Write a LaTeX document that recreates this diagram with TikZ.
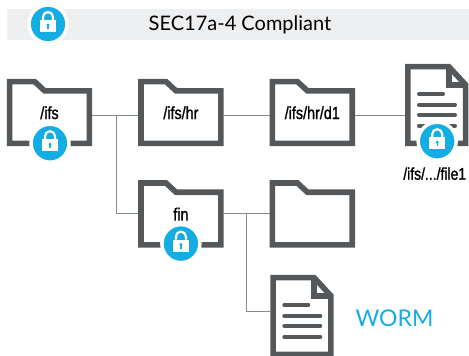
\documentclass[tikz,border=0pt]{standalone}
\usepackage{fontspec}
\setmainfont{Lato}
\newfontfamily\labelfont[FakeStretch=0.82,FakeBold=1.2]{Liberation Sans}
\usetikzlibrary{positioning,calc}
\definecolor{lockblue}{HTML}{14ADE3}
\definecolor{iconGray}{HTML}{54585A}
\definecolor{bandGray}{HTML}{EEEFF1}
\tikzset{
 folder/.style={minimum width=85pt, minimum height=67pt, inner sep=0pt, text height=13pt, text depth=0pt, font=\labelfont\fontsize{17.5}{17.5}\selectfont},
 docu/.style={minimum width=63pt, minimum height=82pt, inner sep=0pt},
 outline/.style={draw=iconGray, line width=5.6pt, miter limit=10},
 textline/.style={draw=iconGray, line width=4pt, line cap=round},
 link/.style={draw=iconGray!70, line width=1pt},
 lock/.style={circle, minimum size=38pt, inner sep=0pt, draw=white, line width=3.5pt, fill=lockblue,
  path picture={
   \fill[white] ([shift={(-8,-8)}]path picture bounding box.center) rectangle ++(16,12);
   \draw[white,line width=2.2pt] ([shift={(-5,4)}]path picture bounding box.center) -- ++(0,3) arc (180:0:5) -- ++(0,-3);
   \fill[lockblue] ([yshift=-1pt]path picture bounding box.center) circle (1.7pt);
   \draw[lockblue,line width=1.2pt] ([yshift=-1pt]path picture bounding box.center) -- ++(0,-4);
  }}
}
\newcommand{\drawfolder}[1]{
 \draw[outline] ([shift={(2.8,-2.8)}]#1.north west) -- ++(25,0) -- ++(10,-9.2) -- ([shift={(-2.8,-12)}]#1.north east) -- ([shift={(-2.8,2.8)}]#1.south east) -- ([shift={(2.8,2.8)}]#1.south west) -- cycle;
}
\newcommand{\drawdocu}[1]{
 \draw[outline] ([shift={(2.8,-2.8)}]#1.north west) -- ++(41,0) -- ([shift={(-2.8,-21)}]#1.north east) -- ([shift={(-2.8,2.8)}]#1.south east) -- ([shift={(2.8,2.8)}]#1.south west) -- cycle;
 \draw[outline] ([shift={(43.8,-2.8)}]#1.north west) -- ++(0,-18.2) -- ([shift={(-2.8,-21)}]#1.north east);
 \draw[textline] ([shift={(14,-30)}]#1.north west) -- ++(24,0);
 \foreach \rowy in {41,51,62}
  \draw[textline] ([shift={(14,-\rowy)}]#1.north west) -- ++(36,0);
}
\begin{document}
\begin{tikzpicture}[x=1pt,y=1pt,node distance=46pt]
\useasboundingbox (0,0) rectangle (469,-356);
% header
\node[fill=bandGray, minimum width=462pt, minimum height=31pt, inner sep=0pt] (band) at (238,-24.5) {};
\node[font=\fontsize{20}{20}\selectfont, xshift=2pt] (title) at (band.center) {SEC17a-4 Compliant};
\node[lock] (lockTop) at (48,-24) {};
% folders
\node[folder] (ifs) at (49.5,-112.5) {/ifs};
\node[folder, right=of ifs] (hr) {/ifs/hr};
\node[folder, right=of hr] (d1) {/ifs/hr/d1};
\node[docu, right=50pt of d1.east, anchor=west, yshift=7.5pt] (file) {};
\node[folder, below=34pt of hr] (fin) {fin};
\node[folder, right=of fin] (sub) {};
\node[docu] (worm) at (302,-316) {};
% connectors
\coordinate (joinA) at ([shift={(24,-2.5)}]ifs.east);
\coordinate (joinB) at ([xshift=23]fin.east);
\draw[link] ([yshift=-2.5]ifs.east) -- ([yshift=-2.5]hr.west);
\draw[link] ([yshift=-2.5]hr.east) -- ([yshift=-2.5]d1.west);
\draw[link] ([yshift=-2.5]d1.east) -- ([yshift=-2.5]d1.east -| file.west);
\draw[link] (joinA) |- (fin.west);
\draw[link] (fin.east) -- (sub.west);
\draw[link] (joinB) |- ([yshift=5]worm.west);
% icons
\drawfolder{ifs}
\drawfolder{hr}
\drawfolder{d1}
\drawfolder{fin}
\drawfolder{sub}
\drawdocu{file}
\drawdocu{worm}
% locks
\node[lock] (lockIfs) at ([shift={(0.5,3)}]ifs.south) {};
\node[lock] (lockFin) at ([yshift=4]fin.south) {};
\node[lock] (lockFile) at ([shift={(0.5,5)}]file.south) {};
% labels
\node[below=21pt of file.south, xshift=-2pt, font=\labelfont\fontsize{17}{17}\selectfont, inner sep=0pt] (fileName) {/ifs/.../file1};
\node[font=\fontsize{23}{23}\selectfont, text=lockblue, inner sep=0pt] (wormName) at (394.5,-318) {WORM};
\end{tikzpicture}
\end{document}
